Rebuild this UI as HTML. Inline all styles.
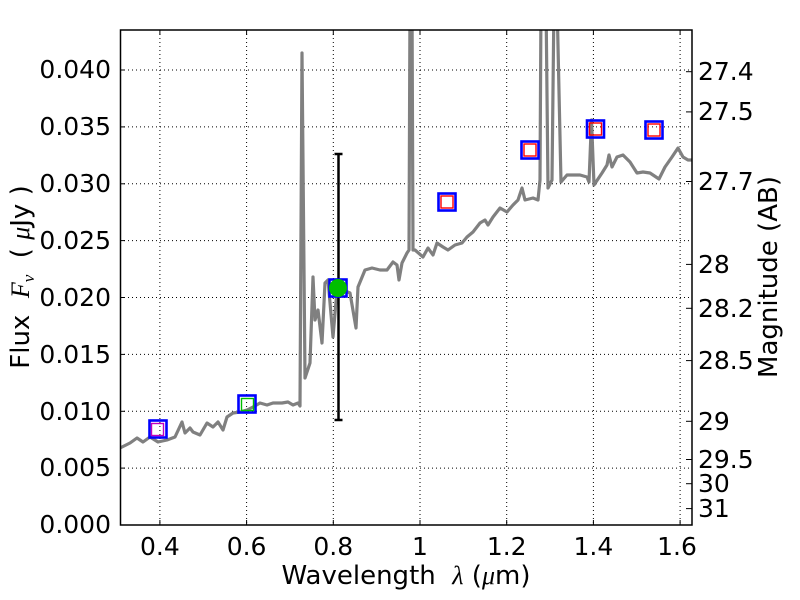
<!DOCTYPE html>
<html><head><meta charset="utf-8"><style>
html,body{margin:0;padding:0;background:#fff;}
svg{display:block;font-family:"DejaVu Sans","Liberation Sans",sans-serif;}
</style></head><body>
<svg width="800" height="600" viewBox="0 0 800 600" xmlns="http://www.w3.org/2000/svg">
<rect width="800" height="600" fill="#fff"/>
<defs><clipPath id="c"><rect x="120.5" y="30" width="571.5" height="495"/></clipPath></defs>
<g stroke="#000" stroke-width="1" stroke-dasharray="1,3" fill="none">
<line x1="159.9" y1="30" x2="159.9" y2="525"/>
<line x1="246.6" y1="30" x2="246.6" y2="525"/>
<line x1="333.3" y1="30" x2="333.3" y2="525"/>
<line x1="420" y1="30" x2="420" y2="525"/>
<line x1="506.7" y1="30" x2="506.7" y2="525"/>
<line x1="593.4" y1="30" x2="593.4" y2="525"/>
<line x1="680.1" y1="30" x2="680.1" y2="525"/>
<line x1="120" y1="468.1" x2="692" y2="468.1"/>
<line x1="120" y1="411.3" x2="692" y2="411.3"/>
<line x1="120" y1="354.4" x2="692" y2="354.4"/>
<line x1="120" y1="297.5" x2="692" y2="297.5"/>
<line x1="120" y1="240.6" x2="692" y2="240.6"/>
<line x1="120" y1="183.8" x2="692" y2="183.8"/>
<line x1="120" y1="126.9" x2="692" y2="126.9"/>
<line x1="120" y1="70" x2="692" y2="70"/>
</g>
<g clip-path="url(#c)">
<polyline fill="none" stroke="#808080" stroke-width="3.2" stroke-linejoin="round" points="120,448 130,443 137,438 143,442 150,437 158,442 167,440 175,437 182,422 185,433 190,428 193,432 200,435 207,423 213,427 218,422 223,430 227,417 233,413 240,412 247,410 253,407 260,403 267,405 273,403 282,403 288,402 293,405 298,403 300,406 302,53 305,378 310,363 313,277 315,320 318,310 322,343 325,283 328,280 333,337 337,290 343,290 350,293 356,328 358,287 365,270 372,268 380,270 387,270 393,262 397,265 399,280 402,263 407,253 409,250 410,0 412,0 413,250 415,250 423,257 428,248 433,255 437,243 443,247 448,250 455,245 462,243 467,237 473,232 480,223 485,220 488,225 493,217 500,208 507,212 513,205 518,200 522,188 525,200 533,198 538,200 540,180 541,0 546,0 548,188 552,180 554,0 557,0 561,182 567,175 580,175 587,177 589,182 591.5,120 594,185 602,173 607,165 609,155 612,167 617,157 623,155 630,162 637,173 643,172 650,173 659,179 665,167 672,157 678,148 683,157 688,160 692,160"/>
</g>
<g stroke="#000" stroke-width="2.5" fill="none">
<line x1="338.5" y1="154" x2="338.5" y2="420"/>
<line x1="334.5" y1="154" x2="342.5" y2="154"/>
<line x1="334.5" y1="420" x2="342.5" y2="420"/>
</g>
<g fill="none" stroke-width="2.6">
<rect x="149.5" y="420.5" width="17" height="17" stroke="#0000ff"/>
<rect x="151.5" y="423.5" width="12" height="12" stroke="#bf00bf" stroke-width="1.4"/>
<rect x="238.5" y="395.5" width="17" height="17" stroke="#0000ff"/>
<rect x="241.5" y="398.5" width="12" height="12" stroke="#00bf00" stroke-width="1.4"/>
<rect x="329.5" y="279.5" width="17" height="17" stroke="#0000ff"/>
<rect x="438.5" y="193.5" width="17" height="17" stroke="#0000ff"/>
<rect x="441" y="196" width="12" height="12" stroke="#ff0000" stroke-width="1.4"/>
<rect x="521.5" y="141.5" width="17" height="17" stroke="#0000ff"/>
<rect x="524" y="144" width="12" height="12" stroke="#ff0000" stroke-width="1.4"/>
<rect x="587" y="120.5" width="17" height="17" stroke="#0000ff"/>
<rect x="589.5" y="123" width="12" height="12" stroke="#ff0000" stroke-width="1.4"/>
<rect x="645.5" y="121.5" width="17" height="17" stroke="#0000ff"/>
<rect x="648" y="124" width="12" height="12" stroke="#ff0000" stroke-width="1.4"/>
</g>
<circle cx="338" cy="288" r="9" fill="#00bf00"/>
<rect x="120.5" y="30" width="571.5" height="495" fill="none" stroke="#000" stroke-width="1.5"/>
<g stroke="#000" stroke-width="1">
<line x1="159.9" y1="525" x2="159.9" y2="520"/><line x1="159.9" y1="30" x2="159.9" y2="35"/>
<line x1="246.6" y1="525" x2="246.6" y2="520"/><line x1="246.6" y1="30" x2="246.6" y2="35"/>
<line x1="333.3" y1="525" x2="333.3" y2="520"/><line x1="333.3" y1="30" x2="333.3" y2="35"/>
<line x1="420" y1="525" x2="420" y2="520"/><line x1="420" y1="30" x2="420" y2="35"/>
<line x1="506.7" y1="525" x2="506.7" y2="520"/><line x1="506.7" y1="30" x2="506.7" y2="35"/>
<line x1="593.4" y1="525" x2="593.4" y2="520"/><line x1="593.4" y1="30" x2="593.4" y2="35"/>
<line x1="680.1" y1="525" x2="680.1" y2="520"/><line x1="680.1" y1="30" x2="680.1" y2="35"/>
<line x1="120" y1="468.1" x2="125" y2="468.1"/><line x1="120" y1="411.3" x2="125" y2="411.3"/>
<line x1="120" y1="354.4" x2="125" y2="354.4"/><line x1="120" y1="297.5" x2="125" y2="297.5"/>
<line x1="120" y1="240.6" x2="125" y2="240.6"/><line x1="120" y1="183.8" x2="125" y2="183.8"/>
<line x1="120" y1="126.9" x2="125" y2="126.9"/><line x1="120" y1="70" x2="125" y2="70"/>
<line x1="692" y1="71.7" x2="686" y2="71.7"/><line x1="692" y1="111.9" x2="686" y2="111.9"/>
<line x1="692" y1="181.5" x2="686" y2="181.5"/><line x1="692" y1="264.4" x2="686" y2="264.4"/>
<line x1="692" y1="308.3" x2="686" y2="308.3"/><line x1="692" y1="360.6" x2="686" y2="360.6"/>
<line x1="692" y1="421.3" x2="686" y2="421.3"/><line x1="692" y1="459.5" x2="686" y2="459.5"/>
<line x1="692" y1="483.7" x2="686" y2="483.7"/><line x1="692" y1="508.6" x2="686" y2="508.6"/>
</g>
<g font-size="25" fill="#000" text-anchor="end">
<text x="111" y="533">0.000</text><text x="111" y="476">0.005</text>
<text x="111" y="420">0.010</text><text x="111" y="363">0.015</text>
<text x="111" y="306">0.020</text><text x="111" y="249">0.025</text>
<text x="111" y="192">0.030</text><text x="111" y="135">0.035</text>
<text x="111" y="78">0.040</text>
</g>
<g font-size="25" fill="#000" text-anchor="middle">
<text x="159.9" y="555">0.4</text><text x="246.6" y="555">0.6</text>
<text x="333.3" y="555">0.8</text><text x="420" y="555">1</text>
<text x="506.7" y="555">1.2</text><text x="593.4" y="555">1.4</text>
<text x="677" y="555">1.6</text>
</g>
<g font-size="25" fill="#000">
<text x="698" y="80">27.4</text><text x="698" y="120">27.5</text>
<text x="698" y="190">27.7</text><text x="698" y="273">28</text>
<text x="698" y="317">28.2</text><text x="698" y="369">28.5</text>
<text x="698" y="430">29</text><text x="698" y="468">29.5</text>
<text x="698" y="492">30</text><text x="698" y="517">31</text>
</g>
<text x="406" y="584" font-size="26" text-anchor="middle" xml:space="preserve">Wavelength  <tspan font-family="Liberation Serif" font-style="italic">λ</tspan> (<tspan font-family="Liberation Serif" font-style="italic">μ</tspan>m)</text>
<text transform="translate(29,277) rotate(-90)" font-size="26" text-anchor="middle" xml:space="preserve">Flux  <tspan font-family="Liberation Serif" font-style="italic">F<tspan font-size="17" dy="5">ν</tspan></tspan><tspan dy="-5">  ( </tspan><tspan font-family="Liberation Serif" font-style="italic">μ</tspan>Jy )</text>
<text transform="translate(777,277) rotate(-90)" font-size="26" text-anchor="middle">Magnitude (AB)</text>
</svg>
</body></html>
